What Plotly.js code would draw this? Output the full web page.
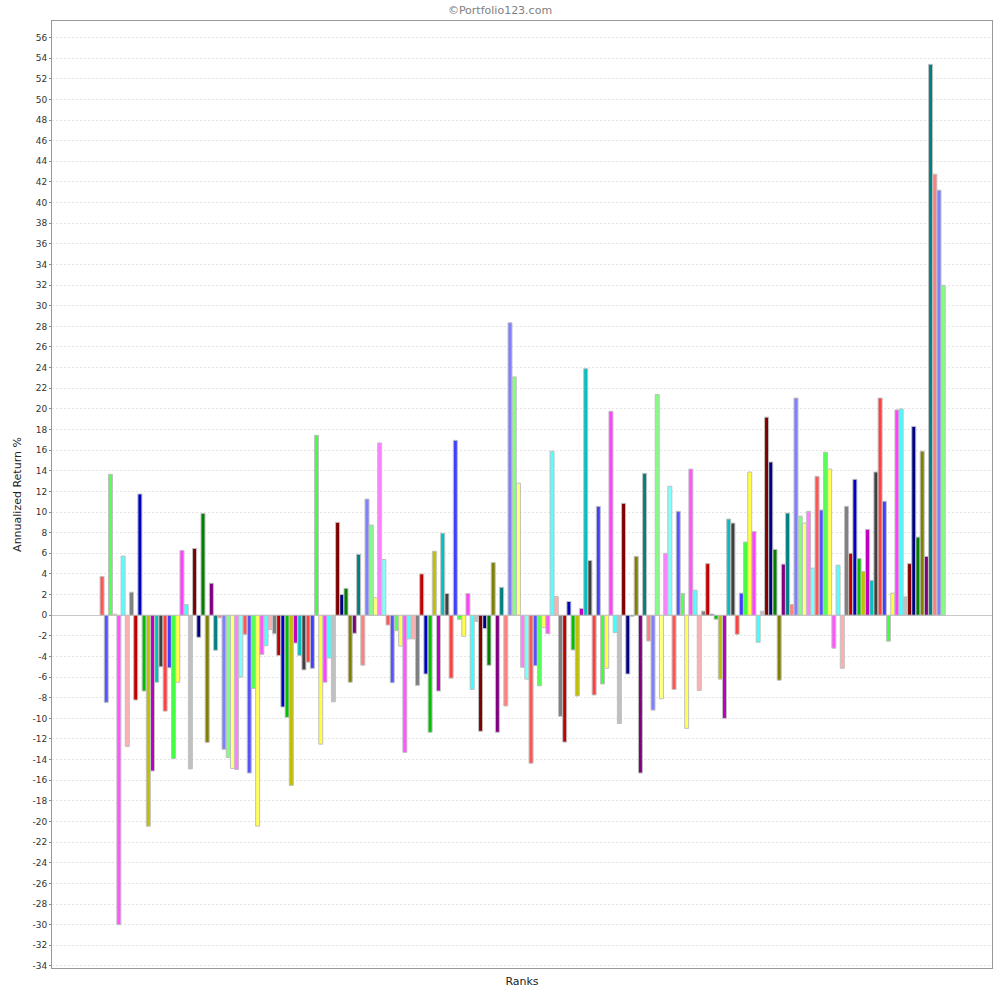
<!DOCTYPE html>
<html>
<head>
<meta charset="utf-8">
<script src="https://cdn.plot.ly/plotly-3.0.1.min.js"></script>
<style>html,body{margin:0;padding:0;background:#fff;}#chart{width:1000px;height:1000px;}</style>
</head>
<body>
<div id="chart"></div>
<script>
// Annualized return % per rank bucket
const returns001_050 = [3.75, -8.45, 13.66, 0.1, -30.0, 5.73, -12.72, 2.23, -8.22, 11.75,
  -7.35, -20.45, -15.1, -6.5, -5.0, -9.3, -5.1, -13.9, -6.5, 6.28,
  1.04, -14.9, 6.47, -2.14, 9.87, -12.33, 3.1, -3.4, -0.25, -13.0,
  -13.8, -14.85, -14.95, -6.0, -1.85, -15.3, -7.1, -20.45, -3.8, -2.95,
  -1.4, -1.8, -3.9, -8.9, -9.9, -16.5, -2.7, -3.9, -5.3, -4.55];
const returns051_100 = [-5.15, 17.44, -12.5, -6.5, -4.15, -8.4, 9.0, 2.0, 2.6, -6.5,
  -1.75, 5.9, -4.85, 11.26, 8.74, 1.7, 16.7, 5.4, -0.95, -6.55,
  -1.5, -3.0, -13.3, -2.3, -2.3, -6.8, 4.0, -5.7, -11.35, 6.2,
  -7.35, 7.95, 2.1, -6.1, 16.95, -0.4, -2.05, 2.1, -7.2, -0.6,
  -11.25, -1.3, -4.85, 5.1, -11.35, 2.7, -8.8, 28.35, 23.1, 12.8];
const returns101_150 = [-5.05, -6.2, -14.35, -4.9, -6.85, -1.2, -1.8, 15.9, 1.8, -9.8,
  -12.3, 1.33, -3.37, -7.83, 0.65, 23.9, 5.3, -7.73, 10.55, -6.67,
  -5.15, 19.77, -1.7, -10.5, 10.84, -5.7, -0.1, 5.7, -15.3, 13.75,
  -2.5, -9.2, 21.4, -8.1, 6.0, 12.5, -7.2, 10.07, 2.1, -10.97,
  14.17, 2.43, -7.3, 0.39, 5.0, 0.1, -0.39, -6.2, -10.0, 9.32];
const returns151_201 = [8.93, -1.85, 2.14, 7.09, 13.88, 8.12, -2.62, 0.39, 19.2, 14.85,
  6.38, -6.3, 4.95, 9.9, 1.04, 21.05, 9.6, 8.93, 10.07, 4.56,
  13.46, 10.2, 15.8, 14.17, -3.2, 4.85, -5.15, 10.55, 6.0, 13.17,
  5.5, 4.24, 8.32, 3.37, 13.88, 21.05, 11.04, -2.52, 2.14, 19.9,
  20.0, 1.78, 5.0, 18.3, 7.57, 15.9, 5.7, 53.4, 42.75, 41.2,
  31.97];

const returns = returns001_050.concat(returns051_100, returns101_150, returns151_201);
const ranks = returns.map((_, i) => String(i + 1));

// Default series paint sequence
const palette = [
  'rgb(255,85,85)', 'rgb(85,85,255)', 'rgb(85,255,85)', 'rgb(255,255,85)',
  'rgb(255,85,255)', 'rgb(85,255,255)', 'rgb(255,175,175)', 'rgb(128,128,128)',
  'rgb(192,0,0)', 'rgb(0,0,192)', 'rgb(0,192,0)', 'rgb(192,192,0)',
  'rgb(192,0,192)', 'rgb(0,192,192)', 'rgb(64,64,64)', 'rgb(255,64,64)',
  'rgb(64,64,255)', 'rgb(64,255,64)', 'rgb(255,255,64)', 'rgb(255,64,255)',
  'rgb(64,255,255)', 'rgb(192,192,192)', 'rgb(128,0,0)', 'rgb(0,0,128)',
  'rgb(0,128,0)', 'rgb(128,128,0)', 'rgb(128,0,128)', 'rgb(0,128,128)',
  'rgb(255,128,128)', 'rgb(128,128,255)', 'rgb(128,255,128)', 'rgb(255,255,128)',
  'rgb(255,128,255)', 'rgb(128,255,255)'
];
const barColors = ranks.map((_, i) => palette[i % palette.length]);

const yTicks = [];
for (let v = -34; v <= 56; v += 2) yTicks.push(v);

const trace = {
  type: 'bar',
  x: ranks,
  y: returns,
  marker: { color: barColors, line: { color: '#c0c0c0', width: 1 } },
  hoverinfo: 'x+y'
};

const layout = {
  width: 1000, height: 1000,
  margin: { l: 52, r: 8, t: 21, b: 32, pad: 0 },
  paper_bgcolor: '#ffffff', plot_bgcolor: '#ffffff',
  font: { family: 'DejaVu Sans, sans-serif', size: 10, color: '#444' },
  showlegend: false,
  bargap: 0.05,
  title: { text: '©Portfolio123.com', x: 0.5, xanchor: 'center', y: 0.99, yanchor: 'middle',
           font: { family: 'DejaVu Sans, sans-serif', size: 11, color: '#808080' } },
  xaxis: {
    type: 'category',
    range: [-11.9, 211.6],
    showticklabels: false, ticks: '',
    showgrid: false, zeroline: false,
    showline: true, linecolor: '#999', linewidth: 1, mirror: true,
    title: { text: 'Ranks', standoff: 9, font: { family: 'DejaVu Sans, sans-serif', size: 11, color: '#222' } }
  },
  yaxis: {
    range: [-34.2, 57.6],
    tickmode: 'array', tickvals: yTicks, ticktext: yTicks.map(String),
    ticks: 'outside', ticklen: 2, tickcolor: '#888',
    tickfont: { family: 'DejaVu Sans, sans-serif', size: 9, color: '#333' },
    showgrid: true, gridcolor: '#e4e4e4', griddash: '2px,2px', gridwidth: 1,
    zeroline: true, zerolinecolor: '#c8c8c8', zerolinewidth: 1,
    showline: true, linecolor: '#999', linewidth: 1, mirror: true,
    title: { text: 'Annualized Return %', standoff: 8, font: { family: 'DejaVu Sans, sans-serif', size: 11, color: '#222' } }
  }
};

Plotly.newPlot('chart', [trace], layout, { displayModeBar: false, staticPlot: true });
</script>
</body>
</html>
